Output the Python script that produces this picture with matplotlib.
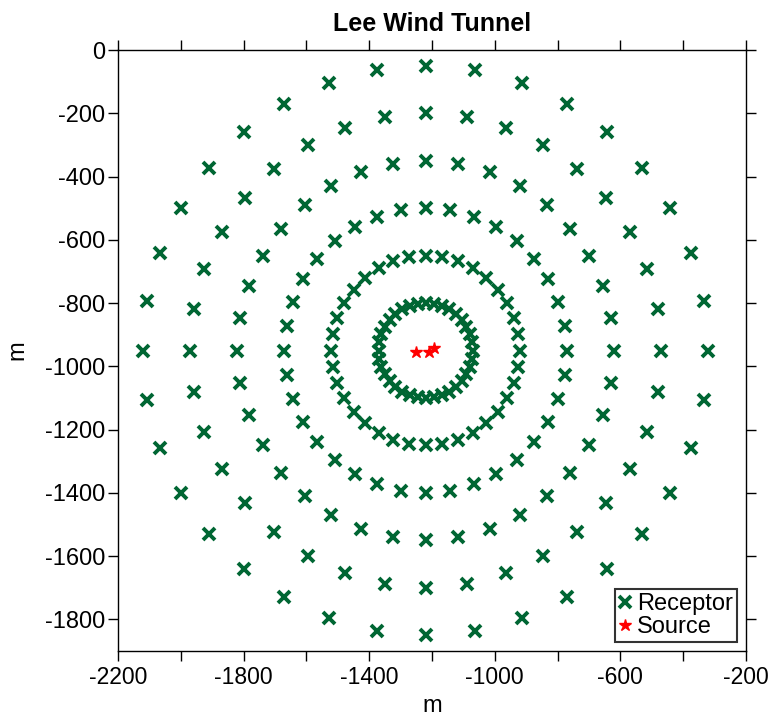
import numpy as np
import matplotlib.pyplot as plt

plt.rcParams['font.family'] = ['Liberation Sans', 'DejaVu Sans']
plt.rcParams['axes.unicode_minus'] = False

# receptor rings, all centred on the source area
center_x = -1220
center_y = -950
ring_radius = [150, 300, 450, 600, 750, 900]
ring_count = [36, 36, 36, 36, 36, 36]

# source positions
source_x = [-1250, -1210, -1195]
source_y = [-955, -955, -942]

rec_x = []
rec_y = []
for r, n in zip(ring_radius, ring_count):
    ang = np.deg2rad(np.arange(n) * 360.0 / n)
    rec_x.extend(center_x + r * np.cos(ang))
    rec_y.extend(center_y + r * np.sin(ang))

fig = plt.figure(figsize=(7.69, 7.22), dpi=100)
ax = fig.add_axes([0.1534, 0.0983, 0.8167, 0.8324])

ax.plot(rec_x, rec_y, 'x', color='#006633', ms=9, mew=2.8, ls='none', label='Receptor')
ax.plot(source_x, source_y, '*', color='red', ms=9, ls='none', label='Source')

ax.set_xlim(-2200, -200)
ax.set_ylim(-1900, 0)
ax.set_xticks(np.arange(-2200, -199, 400))
ax.set_xticks(np.arange(-2200, -199, 200), minor=True)
ax.set_yticks(np.arange(-1800, 1, 200))
ax.tick_params(which='both', direction='out', length=7, width=1, top=True, right=True)
ax.tick_params(axis='x', labelsize=16.5, pad=4)
ax.tick_params(axis='y', labelsize=17, pad=2)
for s in ax.spines.values():
    s.set_linewidth(1)

ax.set_xlabel('m', fontsize=17, labelpad=4)
ax.set_ylabel('m', fontsize=17, labelpad=12)
ax.set_title('Lee Wind Tunnel', fontsize=18, fontweight='bold', pad=14)

leg = ax.legend(loc='lower right', fontsize=17, frameon=True, fancybox=False,
                handlelength=0.6, handletextpad=0.2, labelspacing=0.05,
                borderpad=0.15, borderaxespad=0.4)
leg.get_frame().set_edgecolor('black')
leg.get_frame().set_linewidth(1.5)

fig.savefig('out.png', dpi=100)
